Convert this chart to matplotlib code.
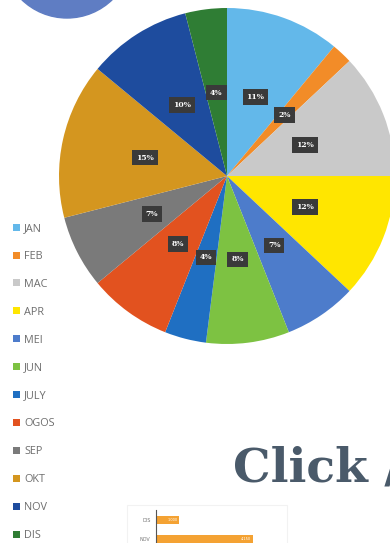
import matplotlib
matplotlib.use("Agg")
import matplotlib.pyplot as plt
from matplotlib.patches import Circle, Rectangle

# Monthly share of the yearly total (percent)
months = ["JAN", "FEB", "MAC", "APR", "MEI", "JUN", "JULY", "OGOS", "SEP", "OKT", "NOV", "DIS"]
shares = [11, 2, 12, 12, 7, 8, 4, 8, 7, 15, 10, 4]
colors = ["#63b8ea", "#f28c28", "#c9c9c9", "#ffe600", "#4d7ccb", "#7dc242",
          "#1f6fc2", "#e2521f", "#7a7a7a", "#d4961f", "#1e4c9e", "#2f7d34"]

# Small bar chart at the foot of the page
bar_months = ["DIS", "NOV"]
bar_values = [1000, 4150]
bar_labels = ["1,000", "4,150"]

W, H = 390, 543
fig = plt.figure(figsize=(W / 100, H / 100), dpi=100)
fig.patch.set_facecolor("white")
ax = fig.add_axes([0, 0, 1, 1])

wedges, texts, autotexts = ax.pie(
    shares, colors=colors, startangle=90, counterclock=False,
    center=(227, H - 176), radius=168, frame=True,
    autopct=lambda p: f"{p:.0f}%", pctdistance=0.5,
    wedgeprops=dict(linewidth=0),
)
for t in autotexts:
    t.set_color("white")
    t.set_fontsize(5.5)
    t.set_fontweight("bold")
    t.set_family("DejaVu Serif")
    t.set_bbox(dict(boxstyle="square,pad=0.5", fc="#3a3a3a", ec="none"))

ax.set_xlim(0, W)
ax.set_ylim(0, H)
ax.set_aspect("auto")
ax.axis("off")

# Round badge at the top left corner
ax.add_patch(Circle((67, H + 47), 65, color="#5f7dc3", zorder=3))

# Legend down the left edge
ax.legend(wedges, months, loc="upper left",
          bbox_to_anchor=(13 / W, 1 - 223 / H), bbox_transform=fig.transFigure,
          frameon=False, labelcolor="#6e6e6e",
          prop=dict(family="Open Sans", size=7.8),
          handlelength=0.62, handleheight=0.62, handletextpad=0.4,
          labelspacing=1.56, borderaxespad=0, borderpad=0)

# Heading text
ax.text(233, H - 482, "Click /", fontsize=34, fontweight="bold",
        family="DejaVu Serif", color="#4a5a6a", ha="left", va="baseline")

# Faint frame around the bar chart
ax.add_patch(Rectangle((127, -20), 160, H - 505 + 20, fill=False,
                       ec="#f2f2f2", lw=0.8))

# Bar chart inset
bx = fig.add_axes([156 / W, (H - 560) / H, 140 / W, 50 / H])
ypos = list(range(len(bar_months)))
bx.barh(ypos, bar_values, height=0.42, color="#f4a233")
for y, v, lab in zip(ypos, bar_values, bar_labels):
    bx.text(v - 80, y, lab, ha="right", va="center", fontsize=2.5,
            color="white")
bx.set_yticks(ypos, bar_months)
bx.set_xlim(0, 6000)
bx.set_ylim(2.08, -0.55)
bx.set_xticks([])
bx.tick_params(axis="y", length=0, labelsize=3.5, labelcolor="#777777", pad=4)
for s in ("top", "right", "bottom"):
    bx.spines[s].set_visible(False)
bx.spines["left"].set_color("#555555")
bx.spines["left"].set_linewidth(0.8)
bx.patch.set_alpha(0)

fig.savefig("out.png", dpi=100)
